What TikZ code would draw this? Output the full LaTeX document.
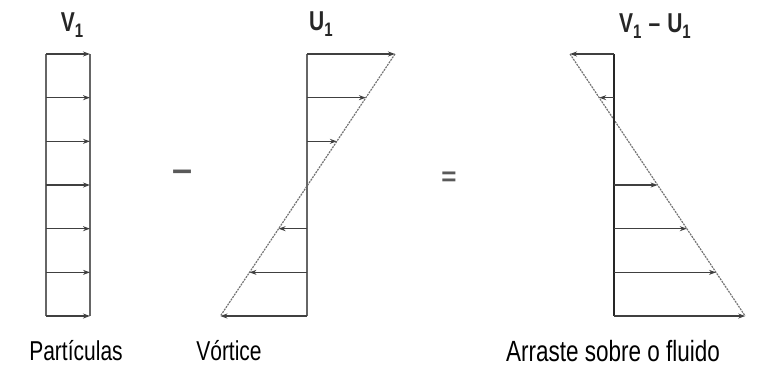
\documentclass[tikz,border=0pt]{standalone}
\usepackage{fontspec}
\setmainfont{Liberation Sans}
\usetikzlibrary{arrows.meta}
\newcommand{\tallt}[1]{\scalebox{1}[1.3]{#1}}
\newcommand{\subone}{\raisebox{-0.45ex}{\fontsize{15}{16}\selectfont 1}}
\begin{document}
\begin{tikzpicture}[x=1pt,y=-1pt,
  axisline/.style={draw=black!60,line width=1.8pt},
  axisdark/.style={draw=black!85,line width=2pt},
  vecarrow/.style={draw=black!75,line width=1.4pt,-{Stealth[length=7pt,width=5pt]}},
  envelope/.style={draw=black!55,line width=1.2pt,dash pattern=on 2pt off 1pt},
  toplabel/.style={font=\fontsize{21}{24}\selectfont\bfseries,inner sep=0pt,text=black!85},
  botlabel/.style={font=\fontsize{21}{24}\selectfont,inner sep=0pt},
  opsign/.style={font=\fontsize{26}{28}\selectfont\bfseries,inner sep=0pt,text=black!65}]
\useasboundingbox (0,0) rectangle (766,370);
% ---------- panel 1: particles ----------
\foreach \i in {0,...,6}{
  \coordinate (pa\i) at (46,{54+\i*43.67});
  \coordinate (pb\i) at (90,{54+\i*43.67});
}
\draw[axisline] (pa0) -- (pa6);
\draw[axisline] (pb0) -- (pb6);
\foreach \i in {0,...,6}{\draw[vecarrow] (pa\i) -- (pb\i);}
\node[toplabel] (lv) at (72,25) {\tallt{V\subone}};
% ---------- panel 2: vortex ----------
\foreach \i in {0,...,6}{
  \coordinate (qa\i) at (307,{54+\i*43.67});
  \coordinate (qb\i) at ({395-\i*29.1},{54+\i*43.67});
}
\draw[envelope] (qb0) -- (qb6);
\draw[axisline] (qa0) -- (qa6);
\foreach \i in {0,1,2,4,5,6}{\draw[vecarrow] (qa\i) -- (qb\i);}
\node[toplabel] (lu) at (321,24) {\tallt{U\subone}};
% ---------- panel 3: drag ----------
\foreach \i in {0,...,6}{
  \coordinate (ra\i) at (614,{54+\i*43.67});
  \coordinate (rb\i) at ({570+\i*29.2},{54+\i*43.67});
}
\draw[envelope] (rb0) -- (rb6);
\draw[axisdark] (ra0) -- (ra6);
\foreach \i in {0,1,3,4,5,6}{\draw[vecarrow] (ra\i) -- (rb\i);}
\node[toplabel] (lvu) at (655,26) {\tallt{V\subone\,\,--\,\,U\subone}};
% ---------- operators ----------
\node[opsign,font=\fontsize{36}{38}\selectfont\bfseries] (minus) at (183,176) {--};
\node[opsign] (equals) at (449,179) {=};
% ---------- bottom labels ----------
\node[botlabel] (b1) at (76,351) {\tallt{Partículas}};
\node[botlabel] (b2) at (229,351) {\tallt{Vórtice}};
\node[botlabel,font=\fontsize{22.5}{26}\selectfont] (b3) at (613,351) {\tallt{Arraste sobre o fluido}};
\end{tikzpicture}
\end{document}
